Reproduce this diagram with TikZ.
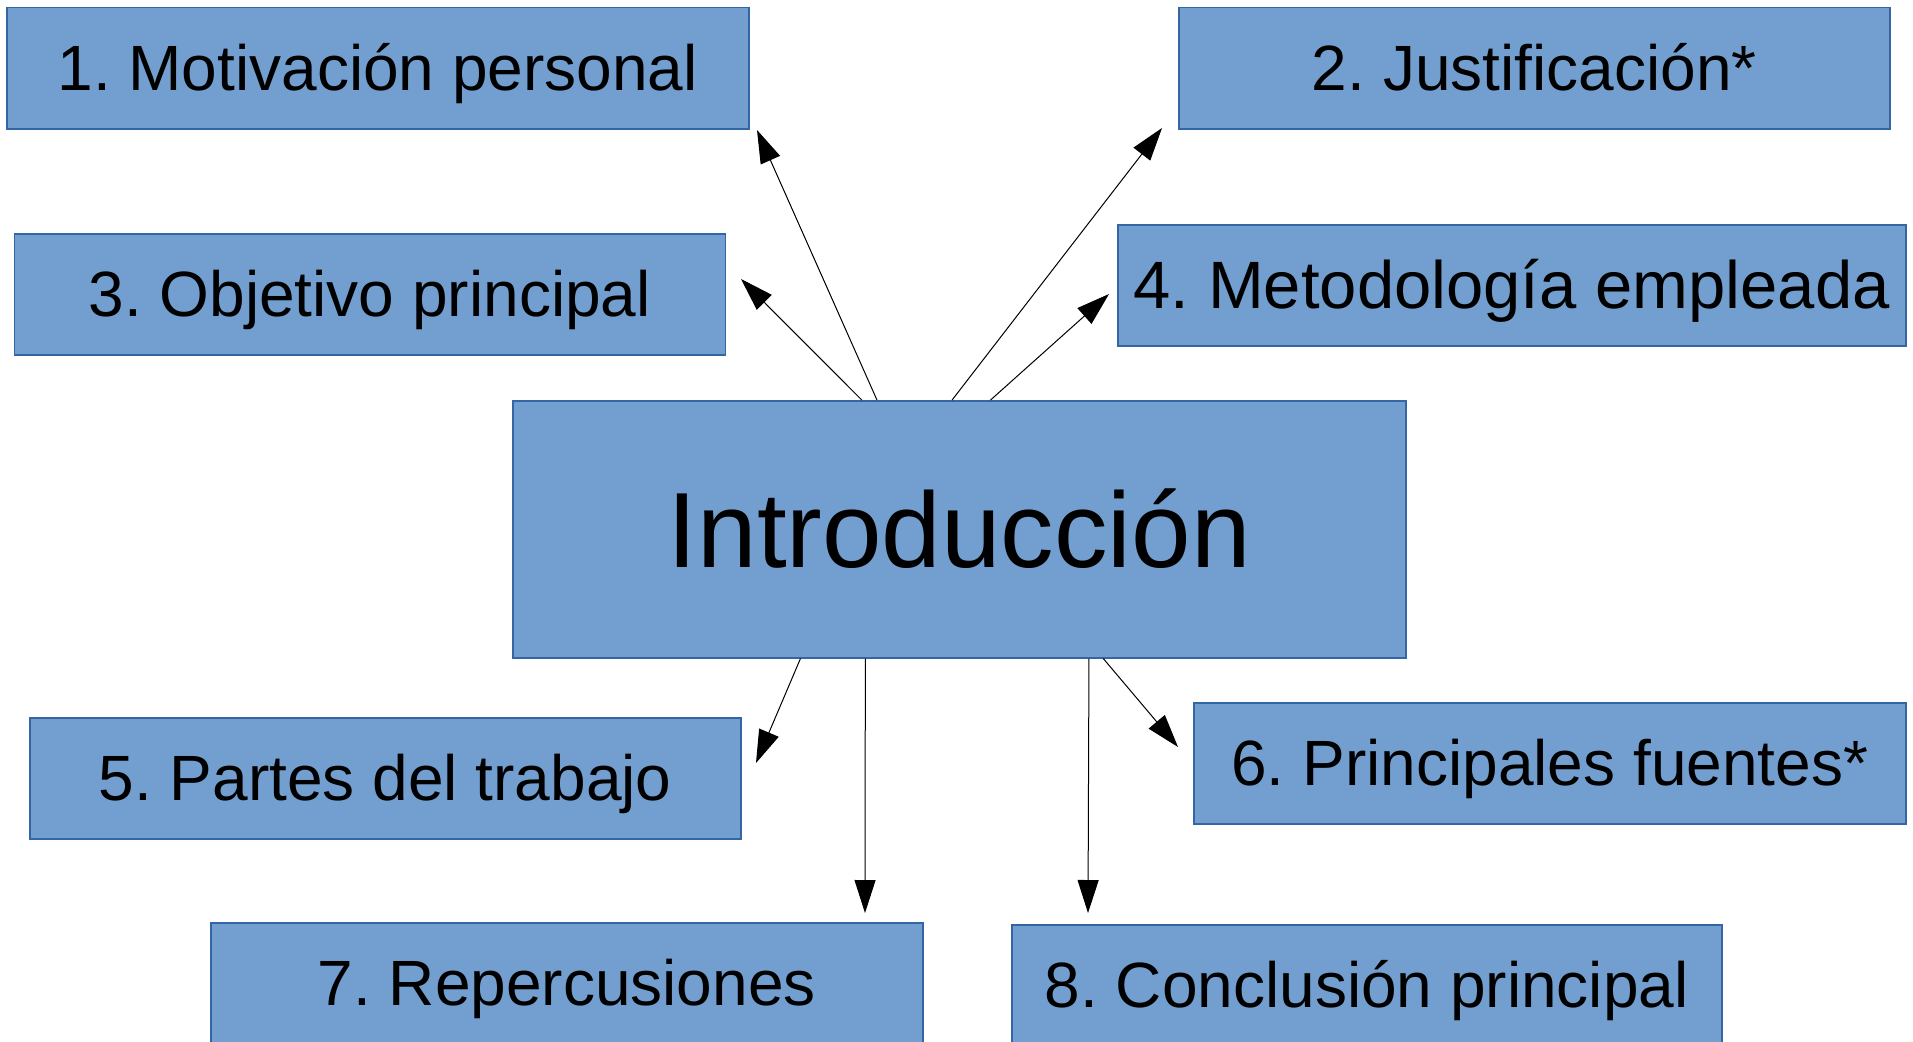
\documentclass[tikz,border=0pt]{standalone}
\usepackage{fontspec}
\setmainfont{Liberation Sans}
\frenchspacing
\usetikzlibrary{arrows.meta,calc}
\definecolor{boxfill}{HTML}{729FCF}
\definecolor{boxline}{HTML}{3465A4}
\tikzset{
  topic/.style={draw=boxline, line width=1.5pt, fill=boxfill, minimum height=121pt,
    inner sep=0pt, text height=45pt, text depth=0pt,
    font=\fontsize{64}{70}\selectfont, anchor=north west},
  conn/.style={line width=1pt, -{Triangle[length=33pt,width=21pt]}},
}
\begin{document}
\begin{tikzpicture}[x=1pt,y=-1pt]
\useasboundingbox (0,0) rectangle (1913,1041);
\fill[white] (0,0) rectangle (1913,1041);
\node[topic, minimum width=742pt] (b1) at (6,7) {1. Motivación personal};
\node[topic, minimum width=711pt] (b2) at (1178,7) {2. Justificación*};
\node[topic, minimum width=711pt] (b3) at (13.5,233) {3. Objetivo principal};
\node[topic, minimum width=788pt, text height=47pt, font=\fontsize{67}{72}\selectfont] (b4) at (1117,224) {4. Metodología empleada};
\node[topic, minimum width=711pt] (b5) at (29,717) {5. Partes del trabajo};
\node[topic, minimum width=712pt] (b6) at (1193,702) {6. Principales fuentes*};
\node[topic, minimum width=712pt] (b7) at (210,922) {7. Repercusiones};
\node[topic, minimum width=710pt] (b8) at (1011,924) {8. Conclusión principal};
\node[topic, minimum width=893pt, minimum height=257pt, text height=77pt,
  font=\fontsize{107}{120}\selectfont] (intro) at (512,400) {Introducción};
\coordinate (t1) at (757,130);
\coordinate (t2) at (1162,128);
\coordinate (t3) at (741,279);
\coordinate (t4) at (1109,294);
\coordinate (t5) at (756,763);
\coordinate (t6) at (1178,747);
\coordinate (t7) at (865,913);
\coordinate (t8) at (1088,913);
\draw[conn] ($(intro.north west)!0.408!(intro.north east)$) -- (t1);
\draw[conn] ($(intro.north west)!0.492!(intro.north east)$) -- (t2);
\draw[conn] ($(intro.north west)!0.391!(intro.north east)$) -- (t3);
\draw[conn] ($(intro.north west)!0.535!(intro.north east)$) -- (t4);
\draw[conn] ($(intro.south west)!0.3225!(intro.south east)$) -- (t5);
\draw[conn] ($(intro.south west)!0.661!(intro.south east)$) -- (t6);
\draw[conn] ($(intro.south west)!0.395!(intro.south east)$) -- (t7);
\draw[conn] ($(intro.south west)!0.645!(intro.south east)$) -- (t8);
\end{tikzpicture}
\end{document}
